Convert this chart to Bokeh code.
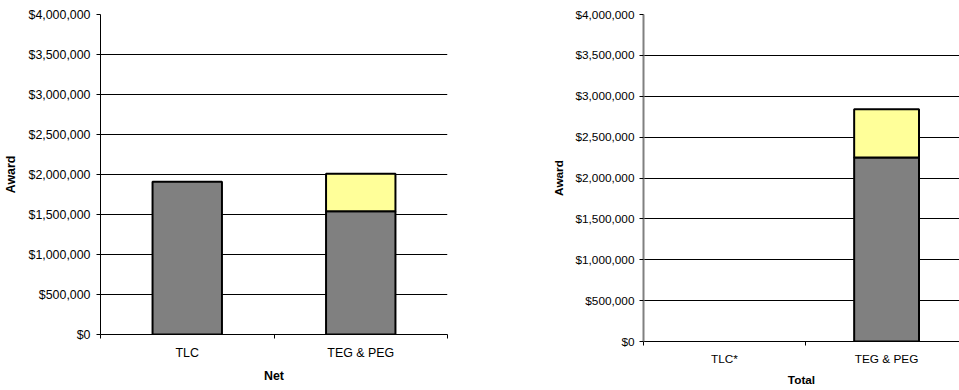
from bokeh.plotting import figure
from bokeh.layouts import row, column
from bokeh.models import Range1d, FixedTicker, NumeralTickFormatter, ColumnDataSource
from bokeh.embed import file_html
from bokeh.resources import INLINE

# ---- data ----
categories_net = ["TLC", "TEG & PEG"]
net_base = [1910000, 1540000]
net_extra = [0, 470000]

categories_total = ["TLC*", "TEG & PEG"]
total_base = [0, 2250000]
total_extra = [0, 590000]

y_ticks = [0, 500000, 1000000, 1500000, 2000000, 2500000, 3000000, 3500000, 4000000]

FONT = "Liberation Sans"
GRAY = "#808080"
YELLOW = "#FFFF99"


def make_chart(cats, base, extra, xlabel, width, left_border, right_border,
               bottom_border, x_end, fsize, bar_w, ylab_standoff, ytick_standoff,
               xtick_standoff, xlab_standoff, yaxis_color, yaxis_width):
    n = len(cats)
    xs = [i + 0.5 for i in range(n)]
    # only draw segments with a non-zero height
    g = dict(x=[], b=[], t=[])
    y = dict(x=[], b=[], t=[])
    for x, b, e in zip(xs, base, extra):
        if b > 0:
            g["x"].append(x); g["b"].append(0); g["t"].append(b)
        if e > 0:
            y["x"].append(x); y["b"].append(b); y["t"].append(b + e)
    p = figure(width=width, height=390, output_backend="svg",
               toolbar_location=None,
               x_range=Range1d(0, x_end), y_range=Range1d(0, 4000000),
               min_border_left=left_border, min_border_right=right_border,
               min_border_top=14, min_border_bottom=bottom_border)
    p.outline_line_color = None
    p.background_fill_color = "white"
    p.border_fill_color = "white"

    p.vbar(x="x", bottom="b", top="t", width=bar_w, source=ColumnDataSource(g),
           fill_color=GRAY, line_color="black", line_width=2)
    p.vbar(x="x", bottom="b", top="t", width=bar_w, source=ColumnDataSource(y),
           fill_color=YELLOW, line_color="black", line_width=2)

    # x axis
    p.xaxis.ticker = FixedTicker(ticks=xs, minor_ticks=list(range(n + 1)))
    p.xaxis.major_label_overrides = {x: c for x, c in zip(xs, cats)}
    p.xaxis.major_tick_out = 0
    p.xaxis.major_tick_in = 0
    p.xaxis.minor_tick_out = 4
    p.xaxis.minor_tick_in = 0
    p.xaxis.minor_tick_line_color = "black"
    p.xaxis.axis_line_color = "black"
    p.xaxis.major_label_standoff = xtick_standoff
    p.xaxis.axis_label = xlabel
    p.xaxis.axis_label_standoff = xlab_standoff
    p.xaxis.axis_label_text_font_style = "bold"

    # y axis
    p.yaxis.ticker = FixedTicker(ticks=y_ticks)
    p.yaxis.formatter = NumeralTickFormatter(format="$0,0")
    p.yaxis.major_tick_out = 4
    p.yaxis.major_tick_in = 0
    p.yaxis.minor_tick_line_color = None
    p.yaxis.axis_line_color = yaxis_color
    p.yaxis.axis_line_width = yaxis_width
    p.yaxis.major_tick_line_color = "black"
    p.yaxis.major_label_standoff = ytick_standoff
    p.yaxis.axis_label = "Award"
    p.yaxis.axis_label_standoff = ylab_standoff
    p.yaxis.axis_label_text_font_style = "bold"

    for ax in (p.xaxis, p.yaxis):
        ax.major_label_text_font = FONT
        ax.major_label_text_font_size = fsize
        ax.major_label_text_color = "black"
        ax.axis_label_text_font = FONT
        ax.axis_label_text_font_size = fsize
        ax.axis_label_text_color = "black"

    p.xgrid.grid_line_color = None
    p.ygrid.ticker = FixedTicker(ticks=y_ticks)
    p.ygrid.grid_line_color = "black"
    p.ygrid.grid_line_width = 1
    return p


left = make_chart(categories_net, net_base, net_extra, "Net",
                  width=480, left_border=100, right_border=33,
                  bottom_border=56, x_end=2.0, fsize="12.4px", bar_w=0.4,
                  ylab_standoff=7, ytick_standoff=6, xtick_standoff=7,
                  xlab_standoff=6, yaxis_color="black", yaxis_width=1)

right = make_chart(categories_total, total_base, total_extra, "Total",
                   width=479, left_border=163, right_border=0,
                   bottom_border=49, x_end=1.95, fsize="11.8px", bar_w=0.4,
                   ylab_standoff=6, ytick_standoff=5, xtick_standoff=6,
                   xlab_standoff=4, yaxis_color=GRAY, yaxis_width=2)

layout = row(column(left), column(right))
open("out.html", "w").write(file_html(layout, INLINE))
